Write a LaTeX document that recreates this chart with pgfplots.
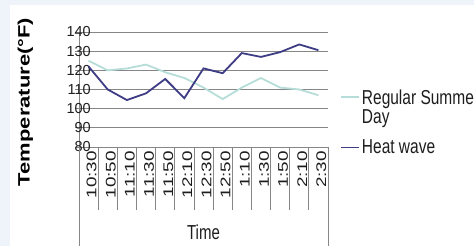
\documentclass[border=0pt]{standalone}
\usepackage{pgfplots}
\pgfplotsset{compat=1.18}
\usepackage{fontspec}
\setmainfont{Liberation Sans}
\usepackage{graphicx}
\definecolor{bgout}{RGB}{239,243,250}
\definecolor{heat}{RGB}{62,60,132}
\definecolor{reg}{RGB}{182,221,216}
\definecolor{gridc}{RGB}{134,134,134}
\definecolor{txt}{RGB}{30,30,30}
\newcommand\xl[1]{\scalebox{1.35}[1]{#1}}
\newcommand\regtext{\scalebox{1}[1.3]{\fontsize{15.5bp}{14.6bp}\selectfont\begin{tabular}{@{}l@{}}Regular Summer\\Day\end{tabular}}}
\newcommand\heattext{\scalebox{1}[1.3]{\fontsize{15.5bp}{14.6bp}\selectfont Heat wave}}
\pgfplotsset{
  regimg/.style={legend image code/.code={\path (0bp,-6bp) (18bp,6bp); \draw[##1] (0bp,6bp) -- (18bp,6bp);}},
  heatimg/.style={legend image code/.code={\draw[##1] (0bp,0bp) -- (18bp,0bp);}},
}
\begin{document}
\begin{tikzpicture}
\path[use as bounding box, fill=bgout] (-79bp,-99bp) rectangle (395bp,147bp);
\fill[white] (-69bp,-99bp) rectangle (395bp,142bp);
\begin{axis}[
  scale only axis, width=249bp, height=115bp,
  xmin=-0.5, xmax=12.5, ymin=80, ymax=140,
  clip=false,
  axis lines=left, axis line style={-, draw=gridc, line width=0.8bp},
  ymajorgrids, grid style={gridc, line width=0.8bp},
  ytick={80,90,...,140},
  xtick={0,...,12},
  xticklabels={\xl{10:30},\xl{10:50},\xl{11:10},\xl{11:30},\xl{11:50},\xl{12:10},\xl{12:30},\xl{12:50},\xl{1:10},\xl{1:30},\xl{1:50},\xl{2:10},\xl{2:30}},
  xtick style={draw=none},
  ytick style={draw=gridc, line width=0.8bp},
  major tick length=4bp, tick align=outside,
  /pgf/number format/assume math mode=true,
  yticklabel style={font=\fontsize{14.5bp}{16bp}\selectfont, text=txt, inner sep=0pt, anchor=east, xshift=16bp},
  xticklabel style={font=\fontsize{14bp}{16bp}\selectfont, text=txt, inner sep=0pt, rotate=90, anchor=east, yshift=-3bp},
  ylabel={\scalebox{1.33}[1]{Temperature(°F)}},
  ylabel style={at={(axis description cs:-0.215,0.391)}, anchor=center, font=\fontsize{16.5bp}{18bp}\selectfont\bfseries, text=black},
  xlabel={\scalebox{1}[1.35]{Time}},
  xlabel style={at={(axis description cs:0.5,-0.743)}, anchor=center, font=\fontsize{15bp}{17bp}\selectfont, text=txt},
  legend style={draw=none, fill=none, inner sep=0pt, at={(axis description cs:1.048,0.5)}, anchor=north west,
    nodes={inner sep=0pt, text=txt}, cells={anchor=west}, column sep=2bp, row sep=24bp},
]
\addplot[reg, line width=1.8bp, regimg]
  coordinates {(0,125) (1,120) (2,121) (3,123) (4,119) (5,116) (6,111) (7,105) (8,111) (9,116) (10,111) (11,110) (12,107)};
\addlegendentry{\regtext}
\addplot[heat, line width=1.8bp, heatimg]
  coordinates {(0,122) (1,110) (2,104.5) (3,108) (4,115.5) (5,105.5) (6,121) (7,118.5) (8,129) (9,127) (10,129.5) (11,133.5) (12,130.5)};
\addlegendentry{\heattext}
\pgfplotsinvokeforeach{0,...,11}{\draw[gridc, line width=0.8bp] (axis cs:#1+0.5,80) -- ([yshift=-63bp]axis cs:#1+0.5,80);}
\draw[gridc, line width=0.8bp] (axis cs:-0.5,80) -- ([yshift=-110bp]axis cs:-0.5,80);
\draw[gridc, line width=0.8bp] (axis cs:12.5,80) -- ([yshift=-110bp]axis cs:12.5,80);
\end{axis}
\end{tikzpicture}
\end{document}
